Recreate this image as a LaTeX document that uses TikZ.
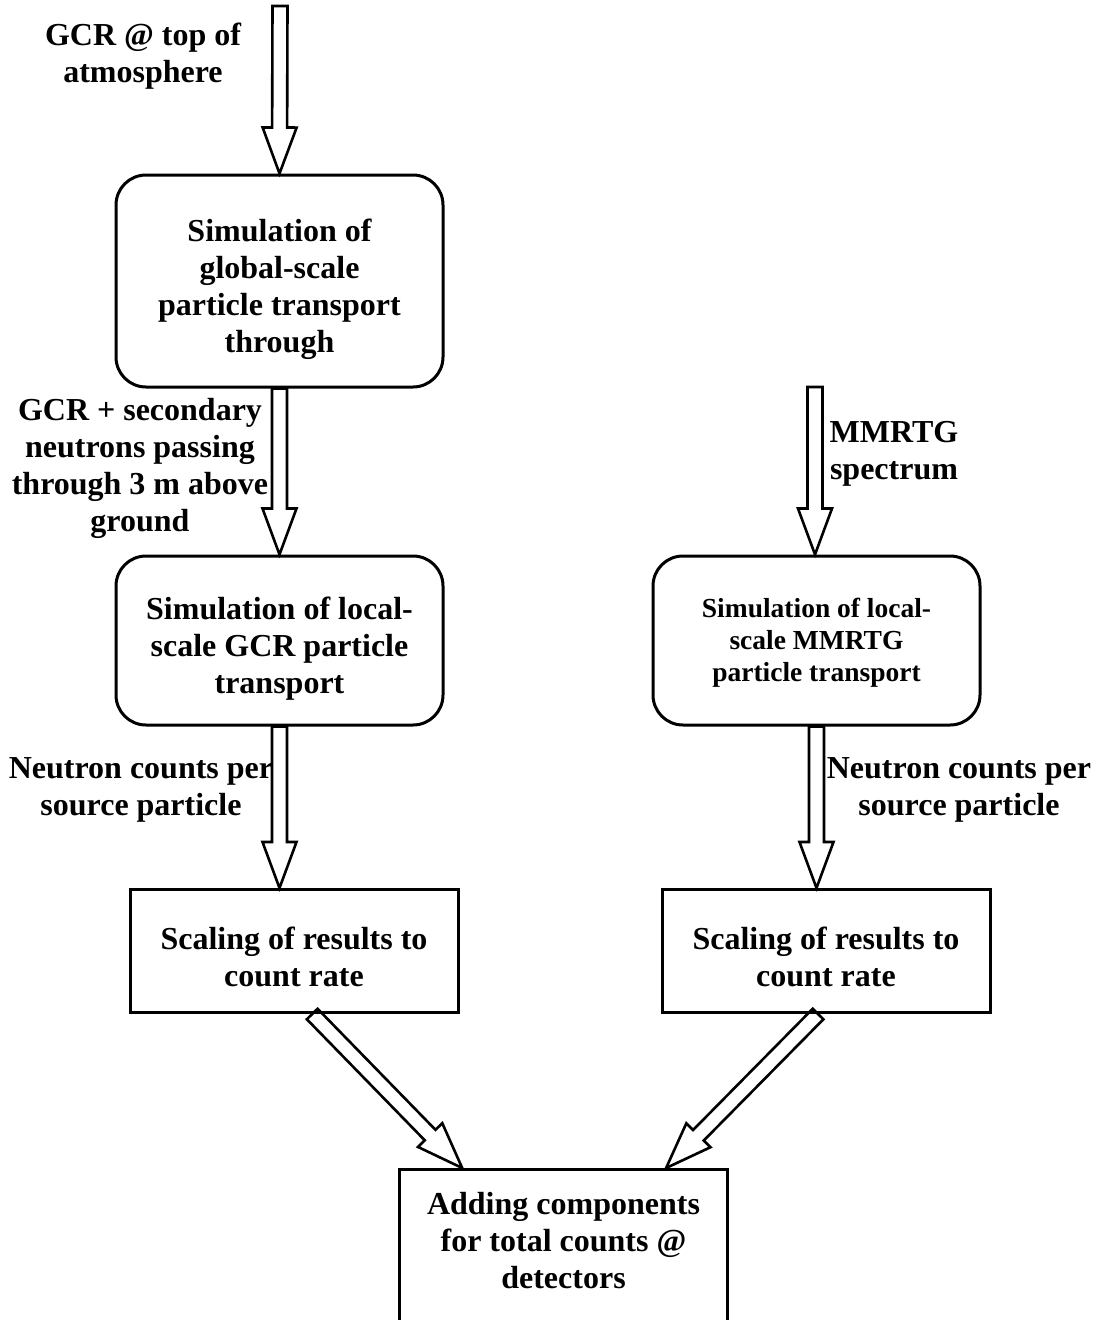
\documentclass[tikz,border=0pt]{standalone}
\usepackage{fontspec}
\setmainfont{Liberation Serif}
\usetikzlibrary{positioning, calc}

\tikzset{
    fat/.style={draw, line width=2.6pt, line join=miter},
}
% extra room above the first line of a box
\newcommand{\topstrut}[1]{\rule{0pt}{#1}}
% hollow block arrow between two points
\newcommand{\fatarrow}[2]{%
  \coordinate (fa-s) at #1;
  \coordinate (fa-e) at #2;
  \coordinate (fa-h) at ($(fa-e)!46pt!(fa-s)$);
  \draw[fat] ($(fa-s)!7.5pt!90:(fa-e)$) -- ($(fa-h)!7.5pt!90:(fa-e)$)
    -- ($(fa-h)!17pt!90:(fa-e)$) -- (fa-e)
    -- ($(fa-h)!17pt!-90:(fa-e)$) -- ($(fa-h)!7.5pt!-90:(fa-e)$)
    -- ($(fa-s)!7.5pt!-90:(fa-e)$) -- cycle;
}

\begin{document}
\begin{tikzpicture}[
    x=1pt, y=-1pt,
    every node/.style={font=\bfseries\fontsize{32}{37}\selectfont, align=center},
    roundbox/.style={rectangle, rounded corners=30pt, draw, line width=3pt,
        minimum width=327pt, minimum height=169pt, inner sep=6pt},
    sqbox/.style={rectangle, draw, line width=3pt,
        minimum width=328pt, minimum height=123pt, inner sep=6pt},
    lbl/.style={inner sep=0pt}
]
\clip (0,0) rectangle (1096,1320);
\useasboundingbox (0,0) rectangle (1096,1320);

% Boxes
\node[roundbox, minimum height=212pt] (globsim) at (279.5,281)
    {\topstrut{40pt}Simulation of\\global-scale\\particle transport\\through};
\node[roundbox, below=166pt of globsim] (gcrsim)
    {\topstrut{38pt}Simulation of local-\\scale GCR particle\\transport};
\node[roundbox, right=207pt of gcrsim,
    font=\bfseries\fontsize{27.5}{32}\selectfont] (rtgsim)
    {\topstrut{23pt}Simulation of local-\\scale MMRTG\\particle transport};
\node[sqbox] (gcrscale) at (294,951) {\topstrut{34pt}Scaling of results to\\count rate};
\node[sqbox] (rtgscale) at (826,951) {\topstrut{34pt}Scaling of results to\\count rate};
\node[sqbox, anchor=north, inner ysep=23pt] (total) at (563.5,1168)
    {Adding components\\for total counts @\\detectors\\\mbox{}};

% Sources
\coordinate (gcrtop) at (280,6);
\coordinate (rtgtop) at (815,387);

% Labels
\node[lbl] (lbltoa) at (143,56) {GCR @ top of\\atmosphere};
\node[lbl] (lblsec) at (140,468) {GCR + secondary\\neutrons passing\\through 3 m above\\ground};
\node[lbl] (lblrtg) at (894,454) {MMRTG\\spectrum};
\node[lbl] (lblgcrn) at (141,790) {Neutron counts per\\source particle};
\node[lbl] (lblrtgn) at (959,790) {Neutron counts per\\source particle};

% Arrows
\fatarrow{(gcrtop)}{(globsim.north)}
\fatarrow{(globsim.south)}{(gcrsim.north)}
\fatarrow{(rtgtop)}{(rtgtop |- rtgsim.north)}
\fatarrow{(gcrsim.south)}{(gcrsim.south |- gcrscale.north)}
\fatarrow{(rtgsim.south)}{(rtgsim.south |- rtgscale.north)}
\fatarrow{($(gcrscale.south west)!0.555!(gcrscale.south east)$)}{($(total.north west)!0.194!(total.north east)$)}
\fatarrow{($(rtgscale.south west)!0.476!(rtgscale.south east)$)}{($(total.north west)!0.81!(total.north east)$)}

\end{tikzpicture}
\end{document}
